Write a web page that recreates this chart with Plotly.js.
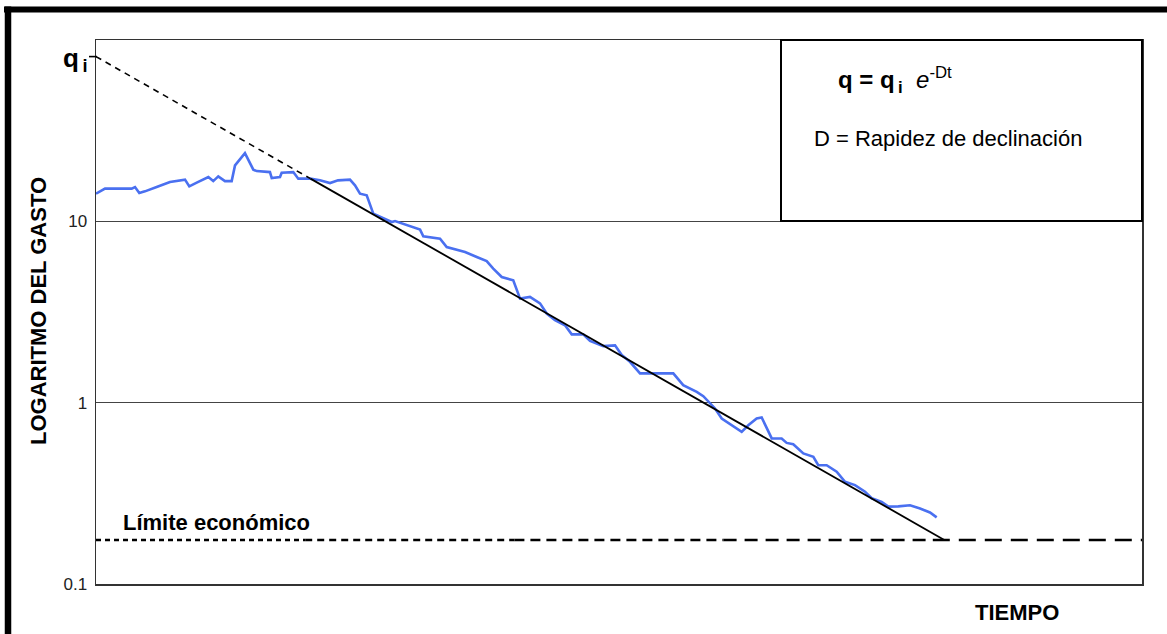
<!DOCTYPE html>
<html>
<head>
<meta charset="utf-8">
<script src="https://cdn.plot.ly/plotly-3.0.1.min.js"></script>
<style>
  html, body { margin: 0; padding: 0; background: #ffffff; }
  #chart { width: 1167px; height: 634px; }
</style>
</head>
<body>
<div id="chart"></div>
<script>
// ---- data ----
const timeData = [0,0.86,3.41,3.73,4.14,4.68,5.80,7.07,8.51,8.92,9.63,10.74,11.21,11.69,12.33,12.97,13.29,14.24,15.04,15.36,16.63,16.80,17.59,17.75,18.86,19.34,20.46,21.41,22.37,23.14,24.28,24.76,25.24,25.88,26.51,27.47,28.27,28.59,29.70,30.98,31.29,32.89,33.53,35.28,36.40,37.35,37.98,38.79,39.89,40.54,41.49,42.45,43.09,43.88,44.84,45.48,46.58,47.23,48.50,49.62,50.26,51.05,52.01,55.19,56.14,57.43,58.06,59.18,59.82,60.78,61.73,62.36,63.16,63.64,64.60,65.55,66.03,66.66,67.62,68.58,69.05,69.85,70.81,71.61,72.56,73.52,74.16,75.11,75.75,76.70,77.82,78.78,79.73,80.37];
const rateData = [14.21,15.14,15.14,15.45,14.32,14.63,15.45,16.46,16.98,15.59,16.34,17.54,16.67,17.70,16.67,16.67,20.35,23.78,19.27,18.93,18.69,17.32,17.54,18.55,18.69,17.19,17.19,16.83,16.26,16.83,16.98,15.79,14.21,13.91,11.03,10.35,9.91,10.04,9.51,9.00,8.27,8.03,7.22,6.77,6.36,6.04,5.49,4.93,4.73,3.75,3.83,3.53,3.10,2.85,2.67,2.38,2.38,2.19,2.05,2.07,1.83,1.68,1.45,1.45,1.25,1.147,1.086,0.929,0.818,0.751,0.690,0.751,0.818,0.829,0.635,0.635,0.600,0.590,0.525,0.503,0.452,0.452,0.416,0.366,0.351,0.323,0.297,0.284,0.267,0.268,0.272,0.261,0.248,0.233];

const extrapT = [0, 20.5];          // dashed back-extrapolation to q_i
const extrapQ = [81, 17.2];
const declineT = [20.5, 81.1];      // fitted exponential decline
const declineQ = [17.2, 0.175];

const qi = 81;
const economicLimit = 0.175;
const timeRange = [0, 100];

const yTickVals = [0.1, 1, 10];
const yTickText = ['0.1', '1', '10'];

// ---- styling ----
const FONT = 'Liberation Sans, Arial, Helvetica, sans-serif';
const econDashes = ['5px,4px', '7px,5px', '10px,6px', '13px,8px', '17px,9px'];

const L = 96, T = 40, R = 1142, B = 584;
const W = 1167, H = 634;
const px = X => (X - L) / (R - L);
const py = Y => (B - Y) / (B - T);

const traces = [];
traces.push({
  x: timeData, y: rateData, type: 'scatter', mode: 'lines',
  line: { color: 'rgb(74,112,240)', width: 2.6 }, hoverinfo: 'skip'
});
traces.push({
  x: extrapT, y: extrapQ, type: 'scatter', mode: 'lines',
  line: { color: '#000', width: 1.6, dash: '6px,5px' }, hoverinfo: 'skip'
});
traces.push({
  x: declineT, y: declineQ, type: 'scatter', mode: 'lines',
  line: { color: '#000', width: 1.8 }, hoverinfo: 'skip'
});
// economic limit line, dash length growing to the right
const nSeg = econDashes.length;
for (let i = 0; i < nSeg; i++) {
  const a = timeRange[0] + (timeRange[1] - timeRange[0]) * i / nSeg;
  const b = timeRange[0] + (timeRange[1] - timeRange[0]) * (i + 1) / nSeg;
  traces.push({
    x: [a, b], y: [economicLimit, economicLimit], type: 'scatter', mode: 'lines',
    line: { color: '#000', width: 2.6, dash: econDashes[i] }, hoverinfo: 'skip'
  });
}

const layout = {
  width: W, height: H,
  margin: { l: L, r: W - R, t: T, b: H - B, pad: 0 },
  paper_bgcolor: '#fff', plot_bgcolor: '#fff',
  showlegend: false,
  font: { family: FONT, color: '#000' },
  xaxis: {
    range: timeRange, showticklabels: false, ticks: '', showgrid: false,
    zeroline: false, showline: true, mirror: true, linecolor: '#333', linewidth: 1.5
  },
  yaxis: {
    type: 'log', range: [-1, 2], tickvals: yTickVals, ticktext: yTickText,
    ticks: '', showgrid: true, gridcolor: '#444', gridwidth: 1.3,
    zeroline: false, showline: true, mirror: true, linecolor: '#333', linewidth: 1.5,
    ticklabelstandoff: 4,
    tickfont: { family: FONT, size: 17, color: '#222' }
  },
  shapes: [
    // legend / formula box
    { type: 'rect', xref: 'paper', yref: 'paper', x0: px(781), x1: px(1142), y0: py(221), y1: py(40),
      line: { color: '#000', width: 2 }, fillcolor: '#fff' },
    // q_i tick
    { type: 'line', xref: 'paper', yref: 'y', x0: px(89), x1: px(97), y0: qi, y1: qi,
      line: { color: '#000', width: 1.6 } },
    // outer frame
    { type: 'line', xref: 'paper', yref: 'paper', x0: px(4), x1: px(1167), y0: py(9.5), y1: py(9.5),
      line: { color: '#000', width: 6 } },
    { type: 'line', xref: 'paper', yref: 'paper', x0: px(8), x1: px(8), y0: py(6.5), y1: py(640),
      line: { color: '#000', width: 6.5 } }
  ],
  annotations: [
    { xref: 'paper', yref: 'paper', x: px(38), y: py(311), text: '<b>LOGARITMO DEL GASTO</b>',
      textangle: -90, showarrow: false, font: { family: FONT, size: 22, color: '#000' },
      xanchor: 'center', yanchor: 'middle' },
    { xref: 'paper', yref: 'paper', x: px(1017), y: py(612), text: '<b>TIEMPO</b>',
      showarrow: false, font: { family: FONT, size: 22, color: '#000' }, xanchor: 'center', yanchor: 'middle' },
    { xref: 'paper', yref: 'paper', x: px(216), y: py(522), text: '<b>Límite económico</b>',
      showarrow: false, font: { family: FONT, size: 22, color: '#000' }, xanchor: 'center', yanchor: 'middle' },
    { xref: 'paper', yref: 'paper', x: px(90), y: py(60), text: '<b>q<sub>&#8201;i</sub></b>',
      showarrow: false, font: { family: FONT, size: 26, color: '#000' }, xanchor: 'right', yanchor: 'middle' },
    { xref: 'paper', yref: 'paper', x: px(836), y: py(80), text: '<b>q = q<sub>&#8201;i</sub></b>  <i>e</i><sup>-Dt</sup>',
      showarrow: false, font: { family: FONT, size: 24, color: '#000' }, xanchor: 'left', yanchor: 'middle' },
    { xref: 'paper', yref: 'paper', x: px(812), y: py(138), text: 'D = Rapidez de declinación',
      showarrow: false, font: { family: FONT, size: 22, color: '#000' }, xanchor: 'left', yanchor: 'middle' }
  ]
};

Plotly.newPlot('chart', traces, layout, { displayModeBar: false, staticPlot: true });
</script>
</body>
</html>
